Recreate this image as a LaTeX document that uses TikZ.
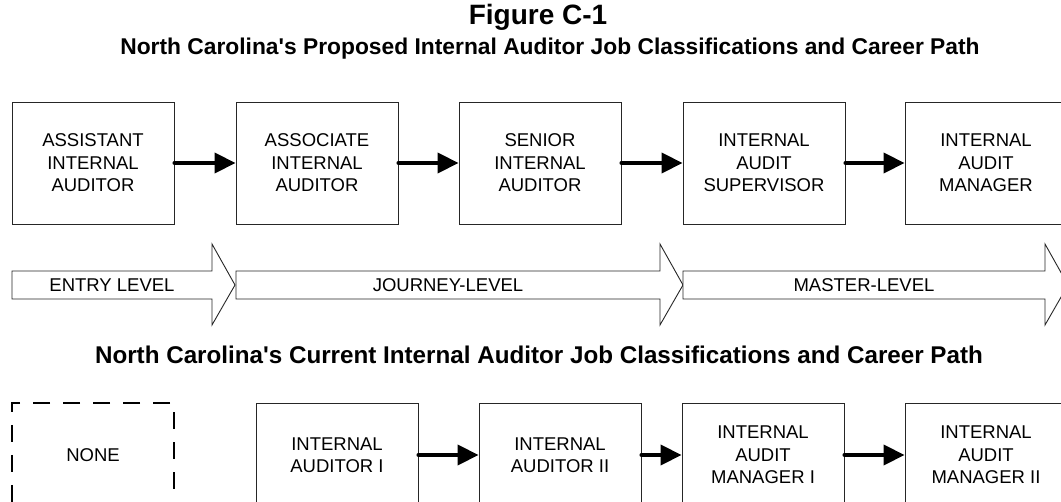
\documentclass[tikz,border=0pt]{standalone}
\usepackage{fontspec}
\setmainfont{Liberation Sans}
\usetikzlibrary{arrows.meta}

\tikzset{
  jobbox/.style={draw=black!85, line width=0.9pt, fill=white, minimum width=162pt,
    minimum height=122pt, inner sep=0pt, align=center,
    font=\fontsize{18.5}{22.5}\selectfont},
  shortbox/.style={jobbox, minimum height=104pt},
  nonebox/.style={shortbox, draw=black, line width=2.6pt, dash pattern=on 17pt off 13pt},
  stepline/.style={line width=4pt, line cap=round, -{Triangle[length=21pt,width=20pt]}},
  levelarrow/.style={draw=black!85, line width=0.9pt, fill=white},
  levellabel/.style={font=\fontsize{18.5}{22}\selectfont},
  subtitle/.style={font=\bfseries\fontsize{22.8}{26}\selectfont},
}

\begin{document}
\begin{tikzpicture}[x=1pt, y=-1pt]
  \useasboundingbox (0,0) rectangle (1061,502);
  \clip (0,0) rectangle (1061,502);

  % titles
  \node (fig) at (538,17) {\bfseries\fontsize{28}{32}\selectfont Figure C-1};
  \node[subtitle] (proposed) at (550,49)
    {North Carolina\textquotesingle s Proposed Internal Auditor Job Classifications and Career Path};
  \node[subtitle, font=\bfseries\fontsize{24.2}{28}\selectfont] (current) at (539,355)
    {North Carolina\textquotesingle s Current Internal Auditor Job Classifications and Career Path};

  % proposed career path
  \node[jobbox] (assistant) at (93,163)  {ASSISTANT\\INTERNAL\\AUDITOR};
  \node[jobbox] (associate) at (317,163) {ASSOCIATE\\INTERNAL\\AUDITOR};
  \node[jobbox] (senior)    at (540,163) {SENIOR\\INTERNAL\\AUDITOR};
  \node[jobbox] (super)     at (764,163) {INTERNAL\\AUDIT\\SUPERVISOR};
  \node[jobbox] (manager)   at (986,163) {INTERNAL\\AUDIT\\MANAGER};

  \draw[stepline] (assistant.east) -- (associate.west);
  \draw[stepline] (associate.east) -- (senior.west);
  \draw[stepline] (senior.east) -- (super.west);
  \draw[stepline] (super.east) -- (manager.west);

  % levels
  \draw[levelarrow] (12,271) -- (212,271) -- (212,244) -- (235,285) -- (212,325)
    -- (212,299) -- (12,299) -- cycle;
  \draw[levelarrow] (236,271) -- (660,271) -- (660,244) -- (683,285) -- (660,325)
    -- (660,299) -- (236,299) -- cycle;
  \draw[levelarrow] (683,271) -- (1045,271) -- (1045,244) -- (1068,285) -- (1045,325)
    -- (1045,299) -- (683,299) -- cycle;
  \node[levellabel] (entry)   at (112,285) {ENTRY LEVEL};
  \node[levellabel] (journey) at (448,285) {JOURNEY-LEVEL};
  \node[levellabel] (master)  at (864,285) {MASTER-LEVEL};

  % current career path
  \node[nonebox]  (none)  at (93,455)  {NONE};
  \node[shortbox] (ia1)   at (337,455) {INTERNAL\\AUDITOR I};
  \node[shortbox] (ia2)   at (560,455) {INTERNAL\\AUDITOR II};
  \node[shortbox] (iam1)  at (763,455) {INTERNAL\\AUDIT\\MANAGER I};
  \node[shortbox] (iam2)  at (986,455) {INTERNAL\\AUDIT\\MANAGER II};

  \draw[stepline] (ia1.east) -- (ia2.west);
  \draw[stepline] (ia2.east) -- (iam1.west);
  \draw[stepline] (iam1.east) -- (iam2.west);
\end{tikzpicture}
\end{document}
